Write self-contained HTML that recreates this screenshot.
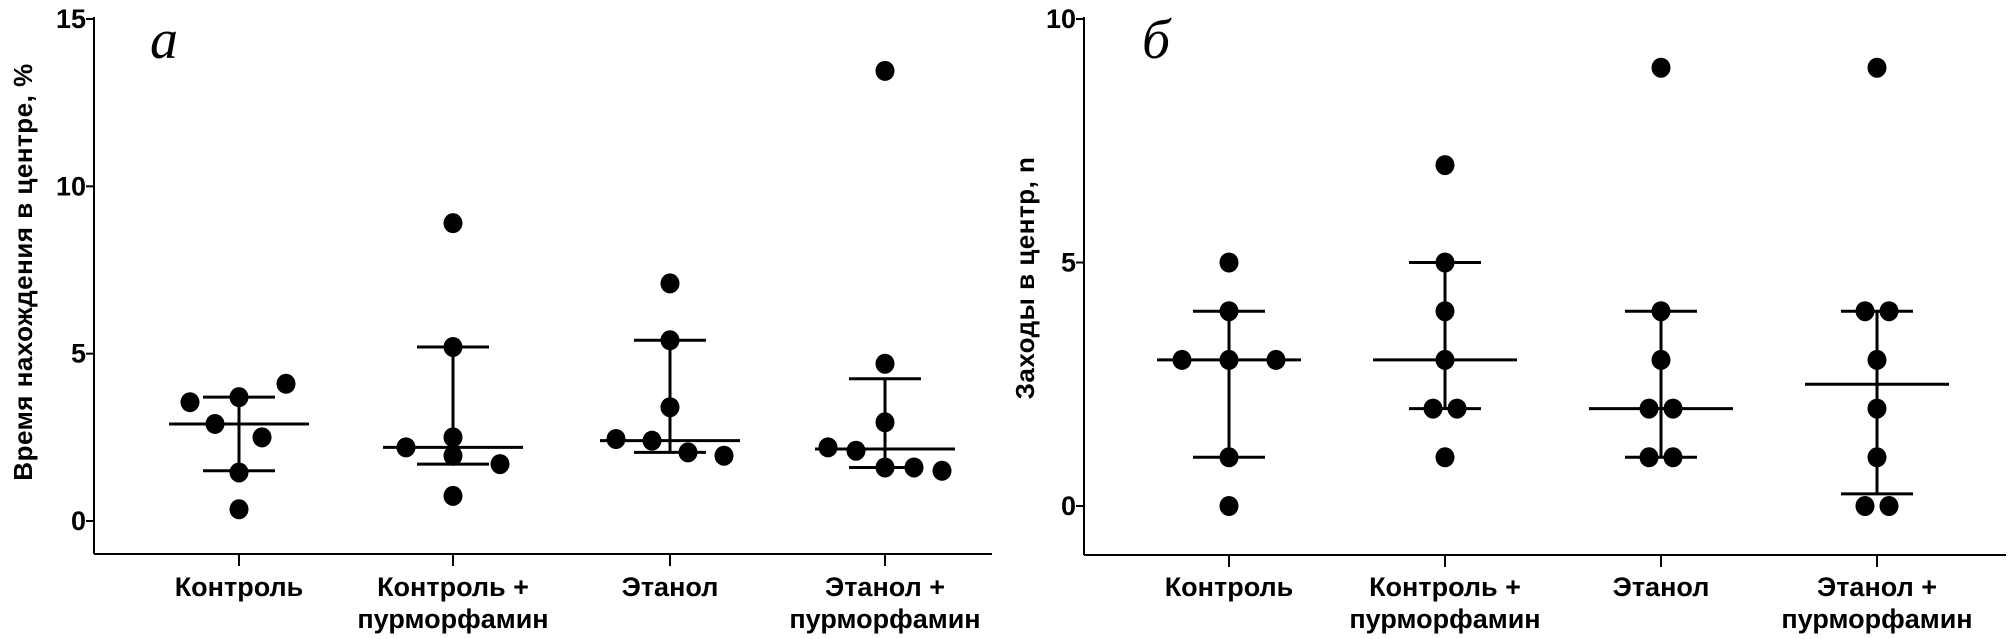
<!DOCTYPE html>
<html><head><meta charset="utf-8"><style>
html,body{margin:0;padding:0;background:#fff}
svg{display:block}
.tk{font-family:"Liberation Sans Narrow","Liberation Sans",sans-serif;font-weight:bold;font-size:27px}
.cat{font-family:"Liberation Sans Narrow","Liberation Sans",sans-serif;font-weight:bold;font-size:27px}
.yt{font-family:"Liberation Sans",sans-serif;font-weight:bold;font-size:26px;letter-spacing:0.5px}
.pl{font-family:"Liberation Serif",serif;font-style:italic;font-size:56px}
</style></head><body>
<svg id="chart" width="2010" height="639" viewBox="0 0 2010 639" xmlns="http://www.w3.org/2000/svg"></svg>
<script>
const categories=["Контроль","Контроль +|пурморфамин","Этанол","Этанол +|пурморфамин"];
const timeValues=[[3.55,2.9,3.7,1.45,0.35,2.5,4.1],[2.2,8.9,5.2,2.5,1.95,0.75,1.7],[2.45,2.4,7.1,5.4,3.4,2.05,1.95],[13.45,4.7,2.95,2.2,2.1,1.6,1.6,1.5]];
const timeJitter=[[-49,-24,0,0,0,23,47],[-47,0,0,0,0,0,47],[-54,-18,0,0,0,18,54],[0,0,0,-57,-29,0,29,57]];
const timeMedian=[2.9,2.2,2.4,2.15];
const timeQ1=[1.5,1.7,2.05,1.6];
const timeQ3=[3.7,5.2,5.4,4.25];
const timeTicks=[0,5,10,15];
const entryValues=[[5,4,3,3,3,1,0],[7,5,4,3,2,2,1],[9,4,3,2,2,1,1],[9,4,4,3,2,1,0,0]];
const entryJitter=[[0,0,-47,0,47,0,0],[0,0,0,0,-12,12,0],[0,0,0,-12,12,-12,12],[0,-12,12,0,0,0,-12,12]];
const entryMedian=[3,3,2,2.5];
const entryQ1=[1,2,1,0.25];
const entryQ3=[4,5,4,4];
const entryTicks=[0,5,10];

const svg=document.getElementById('chart');
const NS="http://www.w3.org/2000/svg";
function mk(tag,attrs,parent){const e=document.createElementNS(NS,tag);for(const k in attrs)e.setAttribute(k,attrs[k]);(parent||svg).appendChild(e);return e;}

function panel(cfg){
  const g=mk('g',{});
  
  
  const y=v=>cfg.y0+(cfg.yTop-cfg.y0)*(v/cfg.max);
  const x=i=>cfg.cx[i];
  const ya=mk('line',{x1:cfg.ax,y1:cfg.yTop-2,x2:cfg.ax,y2:cfg.bottom,stroke:'#000','stroke-width':2},g);
  
  
  const xa=mk('line',{x1:cfg.ax,y1:cfg.bottom,x2:cfg.right,y2:cfg.bottom,stroke:'#000','stroke-width':2},g);
  
  
  cfg.ticks.forEach(t=>{
    mk('line',{x1:cfg.ax-8,y1:y(t),x2:cfg.ax,y2:y(t),stroke:'#000','stroke-width':2},g);
    const tl=mk('text',{x:cfg.ax-8,y:y(t)+9,'text-anchor':'end',class:'tk'},g);
    tl.textContent=t;
    
    
  });
  categories.forEach((c,i)=>{
    mk('line',{x1:x(i),y1:cfg.bottom,x2:x(i),y2:cfg.bottom+12,stroke:'#000','stroke-width':2},g);
    c.split('|').forEach((line,j)=>{
      const t=mk('text',{x:x(i),y:596+j*32,'text-anchor':'middle',class:'cat'},g);
      t.textContent=line;
      
      
    });
    const w=mk('line',{x1:x(i),y1:y(cfg.q1[i]),x2:x(i),y2:y(cfg.q3[i]),stroke:'#000','stroke-width':3},g);
    
    
    [cfg.q1[i],cfg.q3[i]].forEach(q=>{
      const cap=mk('line',{x1:x(i)-36,y1:y(q),x2:x(i)+36,y2:y(q),stroke:'#000','stroke-width':3},g);
      
      
    });
    const m=mk('line',{x1:x(i)-cfg.mw,y1:y(cfg.med[i]),x2:x(i)+cfg.mw,y2:y(cfg.med[i]),stroke:'#000','stroke-width':3},g);
    
    
    cfg.vals[i].forEach((v,k)=>{
      const p=mk('ellipse',{cx:x(i)+cfg.jit[i][k],cy:y(v),rx:9.5,ry:10,fill:'#000'},g);
      
      
    });
  });
  const t=mk('text',{transform:`translate(${cfg.titleX},${cfg.titleY}) rotate(-90)`,'text-anchor':'middle',class:'yt'},g);
  t.textContent=cfg.title;
  
  
  const l=mk('text',{x:cfg.letterX,y:58,class:'pl'},g);
  l.textContent=cfg.letter;
  
  
}
panel({name:'panel-a-time-in-center',ax:94,right:992,yTop:19,y0:521,bottom:554,max:15,cx:[239,453,670,885],
  ticks:timeTicks,vals:timeValues,jit:timeJitter,med:timeMedian,q1:timeQ1,q3:timeQ3,mw:70,
  title:'Время нахождения в центре, %',titleX:32,titleY:272,letter:'a',letterX:150});
panel({name:'panel-b-center-entries',ax:1084,right:2006,yTop:19,y0:506,bottom:555,max:10,cx:[1229,1445,1661,1877],
  ticks:entryTicks,vals:entryValues,jit:entryJitter,med:entryMedian,q1:entryQ1,q3:entryQ3,mw:72,
  title:'Заходы в центр, n',titleX:1034,titleY:278,letter:'б',letterX:1142});
</script>
</body></html>
